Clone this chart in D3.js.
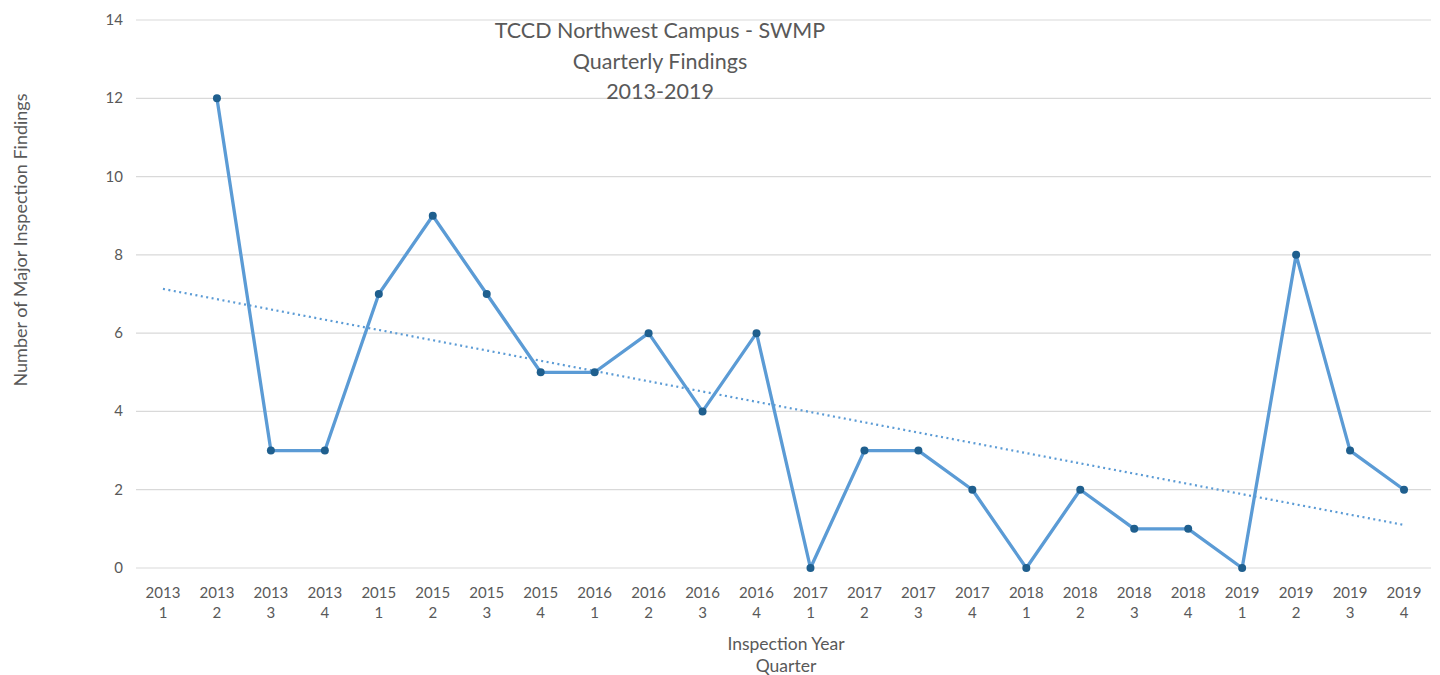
<!DOCTYPE html>
<html>
<head>
<meta charset="utf-8">
<script src="https://cdn.jsdelivr.net/npm/d3@7"></script>
<style>
  body { margin: 0; background: #fff; }
  text { font-family: Lato, "Open Sans", sans-serif; fill: #595959; }
</style>
</head>
<body>
<div id="main"></div>
<script>
let years = ["2013","2013","2013","2013","2015","2015","2015","2015","2016","2016","2016","2016",
             "2017","2017","2017","2017","2018","2018","2018","2018","2019","2019","2019","2019"];
let quarters = ["1","2","3","4","1","2","3","4","1","2","3","4",
                "1","2","3","4","1","2","3","4","1","2","3","4"];
let findings = [null,12,3,3,7,9,7,5,5,6,4,6,0,3,3,2,0,2,1,1,0,8,3,2];
let trendStart = 7.13;
let trendEnd = 1.1;
let yTicks = [0,2,4,6,8,10,12,14];
let titleLines = ["TCCD Northwest Campus - SWMP", "Quarterly Findings", "2013-2019"];

let width = 1440, height = 675;
let plotLeft = 136, plotRight = 1431, plotTop = 20, plotBottom = 568;

let svg = d3.select("#main")
    .append("svg")
    .attr("width", width)
    .attr("height", height);

let keys = years.map((y, i) => i);

var xScale = d3.scaleBand().domain(keys).range([plotLeft, plotRight]);
var yScale = d3.scaleLinear().domain([0, 14]).range([plotBottom, plotTop]);
let xc = i => xScale(i) + xScale.bandwidth() / 2;

// gridlines
svg.append("g").selectAll("line").data(yTicks).enter()
    .append("line")
    .attr("x1", plotLeft).attr("x2", plotRight)
    .attr("y1", d => yScale(d)).attr("y2", d => yScale(d))
    .attr("stroke", "#d9d9d9")
    .attr("stroke-width", 1.2);

// y tick labels
svg.append("g").selectAll("text").data(yTicks).enter()
    .append("text")
    .attr("x", 123)
    .attr("y", d => yScale(d) + 5)
    .attr("text-anchor", "end")
    .attr("font-size", 15)
    .text(d => d);

// x tick labels
let xl = svg.append("g").selectAll("text").data(keys).enter()
    .append("text")
    .attr("text-anchor", "middle")
    .attr("font-size", 15);
xl.append("tspan").attr("x", d => xc(d)).attr("y", 598).text(d => years[d]);
xl.append("tspan").attr("x", d => xc(d)).attr("y", 618).text(d => quarters[d]);

// title
svg.append("g").selectAll("text").data(titleLines).enter()
    .append("text")
    .attr("x", 660)
    .attr("y", (d, i) => 38 + i * 30.5)
    .attr("text-anchor", "middle")
    .attr("font-size", 21.5)
    .text(d => d);

// axis titles
svg.append("text")
    .attr("transform", "translate(27,240) rotate(-90)")
    .attr("text-anchor", "middle")
    .attr("font-size", 18)
    .text("Number of Major Inspection Findings");

svg.append("text")
    .attr("x", 786).attr("y", 650)
    .attr("text-anchor", "middle")
    .attr("font-size", 17.5)
    .text("Inspection Year");
svg.append("text")
    .attr("x", 786).attr("y", 672)
    .attr("text-anchor", "middle")
    .attr("font-size", 17.5)
    .text("Quarter");

// trendline
svg.append("line")
    .attr("x1", xc(0)).attr("y1", yScale(trendStart))
    .attr("x2", xc(keys.length - 1)).attr("y2", yScale(trendEnd))
    .attr("stroke", "#5b9bd5")
    .attr("stroke-width", 2.2)
    .attr("stroke-dasharray", "2,3.5");

// series line
let line = d3.line()
    .defined(d => findings[d] !== null)
    .x(d => xc(d))
    .y(d => yScale(findings[d]));

svg.append("path")
    .datum(keys)
    .attr("d", line)
    .attr("fill", "none")
    .attr("stroke", "#5b9bd5")
    .attr("stroke-width", 3.3)
    .attr("stroke-linejoin", "round");

svg.append("g").selectAll("circle").data(keys.filter(d => findings[d] !== null)).enter()
    .append("circle")
    .attr("cx", d => xc(d))
    .attr("cy", d => yScale(findings[d]))
    .attr("r", 4)
    .attr("fill", "#1f5f8e");
</script>
</body>
</html>
